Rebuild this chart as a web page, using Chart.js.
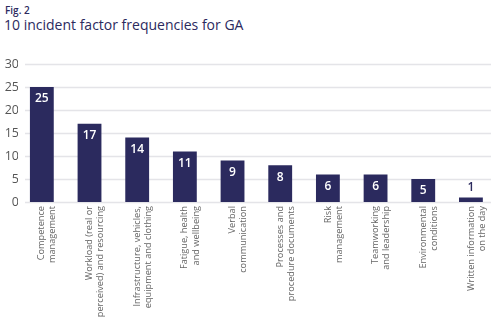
<!DOCTYPE html>
<html>
<head>
<meta charset="utf-8">
<script src="https://cdn.jsdelivr.net/npm/chart.js@4.4.1/dist/chart.umd.min.js"></script>
<style>
  html, body { margin: 0; padding: 0; background: #fff; }
  body { width: 491px; height: 321px; overflow: hidden; position: relative; font-family: "Open Sans", sans-serif; color: #2b2a5e; }
  #fig { position: absolute; left: 5px; top: 3px; font-size: 10px; font-weight: 600; }
  #title { position: absolute; left: 4px; top: 15px; font-size: 14px; }
  #wrap { position: absolute; left: 0; top: 50px; width: 497px; height: 271px; }
</style>
</head>
<body>
<div id="fig">Fig. 2</div>
<div id="title">10 incident factor frequencies for GA</div>
<div id="wrap"><canvas id="chart"></canvas></div>
<script>
// ─── Dados ───────────────────────────────────────────────────────────────────
const categories = [
  ["Competence", "management"],
  ["Workload (real or", "perceived) and resourcing"],
  ["Infrastructure, vehicles,", "equipment and clothing"],
  ["Fatigue, health", "and wellbeing"],
  ["Verbal", "communication"],
  ["Processes and", "procedure documents"],
  ["Risk", "management"],
  ["Teamworking", "and leadership"],
  ["Environmental", "conditions"],
  ["Written information", "on the day"],
];
const frequencies = [25, 17, 14, 11, 9, 8, 6, 6, 5, 1];
const yTicks = [0, 5, 10, 15, 20, 25, 30];

const NAVY = "#2b2a5e";
const GRID_LEFT = 25;

// linhas de grade começando depois dos rótulos do eixo y
const gridLines = {
  id: "gridLines",
  beforeDatasetsDraw(chart) {
    const { ctx, chartArea, scales } = chart;
    ctx.save();
    ctx.strokeStyle = "#e4e4e8";
    ctx.lineWidth = 1.5;
    yTicks.forEach(v => {
      const y = Math.round(scales.y.getPixelForValue(v)) + 0.5;
      ctx.beginPath();
      ctx.moveTo(GRID_LEFT, y);
      ctx.lineTo(chartArea.right, y);
      ctx.stroke();
    });
    ctx.restore();
  }
};

// rótulos de valor no topo das barras
const valueLabels = {
  id: "valueLabels",
  afterDatasetsDraw(chart) {
    const { ctx } = chart;
    const meta = chart.getDatasetMeta(0);
    ctx.save();
    ctx.font = "600 12px 'Open Sans', sans-serif";
    ctx.textAlign = "center";
    ctx.textBaseline = "middle";
    meta.data.forEach((bar, i) => {
      const h = bar.base - bar.y;
      if (h > 12) {
        ctx.fillStyle = "#ffffff";
        ctx.fillText(frequencies[i], bar.x, bar.y + 12);
      } else {
        ctx.fillStyle = NAVY;
        ctx.fillText(frequencies[i], bar.x, bar.y - 10);
      }
    });
    ctx.restore();
  }
};

new Chart(document.getElementById("chart"), {
  type: "bar",
  data: {
    labels: categories,
    datasets: [{
      data: frequencies,
      backgroundColor: NAVY,
      barPercentage: 0.5,
      categoryPercentage: 1,
    }]
  },
  options: {
    responsive: true,
    maintainAspectRatio: false,
    animation: false,
    layout: { padding: { top: 14, right: 0, left: 0, bottom: 0 } },
    plugins: { legend: { display: false }, tooltip: { enabled: false } },
    scales: {
      x: {
        afterFit: axis => { axis.height = 119; },
        grid: { display: false, drawTicks: false },
        border: { display: false },
        ticks: {
          color: "#666",
          font: { family: "'Open Sans', sans-serif", size: 9.2 },
          maxRotation: 90, minRotation: 90,
          autoSkip: false,
          padding: 4,
        },
      },
      y: {
        min: 0, max: 30,
        afterBuildTicks: axis => { axis.ticks = yTicks.map(v => ({ value: v })); },
        afterFit: axis => { axis.width = 18; },
        grid: { display: false, drawTicks: false },
        border: { display: false },
        ticks: {
          color: "#555",
          font: { family: "'Open Sans', sans-serif", size: 12.5 },
          padding: -1,
        },
      }
    }
  },
  plugins: [gridLines, valueLabels]
});
</script>
</body>
</html>
